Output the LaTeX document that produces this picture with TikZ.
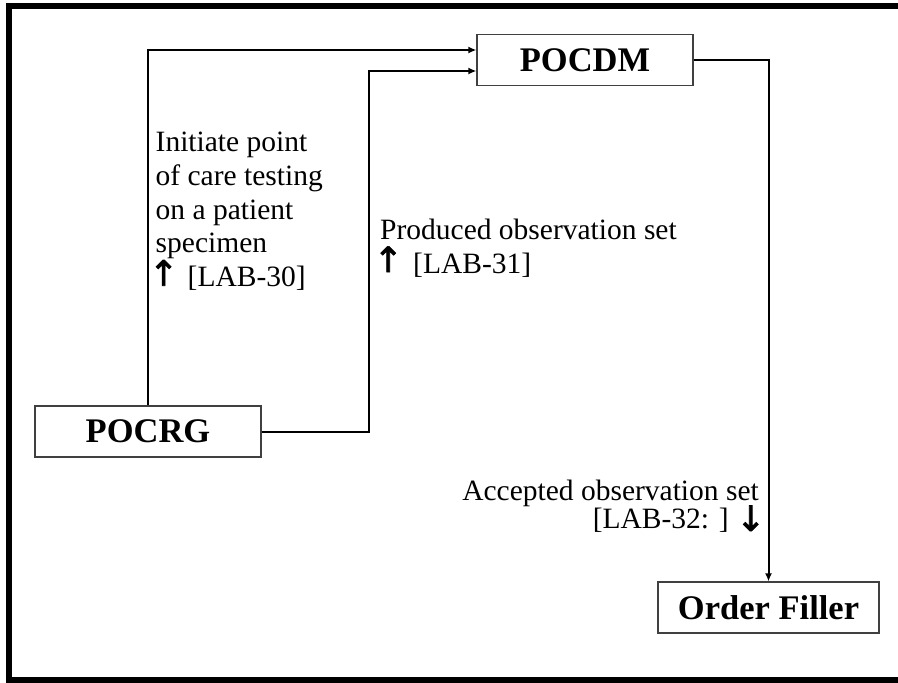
\documentclass[tikz,border=0pt]{standalone}
\usepackage{fontspec}
\setmainfont{Liberation Serif}
\newfontfamily\arrowfont[FakeBold=2]{DejaVu Sans}
\newcommand{\arrglyph}[2][1pt]{\makebox[16pt][c]{\raisebox{#1}{\smash{\arrowfont\fontsize{35pt}{24pt}\selectfont #2}}}}
\usetikzlibrary{arrows.meta,calc}
\begin{document}
\begin{tikzpicture}[x=1pt,y=-1pt,
  actor/.style={draw=black!75,line width=1.2pt,minimum height=51pt,inner sep=0pt,
    font=\fontsize{34.5pt}{40pt}\selectfont\bfseries},
  conn/.style={line width=2pt,-{Latex[length=8pt,width=7pt]}},
  lbl/.style={inner sep=0pt,font=\fontsize{29.5pt}{33.75pt}\selectfont}]
\useasboundingbox (0,0) rectangle (898,683);
% frame
\draw[line width=5.6pt] (8.7,690) -- (8.7,6) -- (905,6);
\draw[line width=6pt] (5.9,680) -- (905,680);
% actors
\node[actor,minimum width=216pt] (pocdm) at (585,60) {POCDM};
\node[actor,minimum width=226pt] (pocrg) at (148,431.5) {POCRG};
\node[actor,minimum width=221pt] (of) at (768.5,607.5) {Order Filler};
% junctions
\coordinate (j2) at (369,71);
% connectors
\draw[conn] (pocrg.north) |- ($(pocdm.west)+(0,-10)$);
\draw[conn] (pocrg.east) -| (j2) -- ($(pocdm.west)+(0,11)$);
\draw[conn] (pocdm.east) -| (of.north);
% labels (base anchor = baseline of last line)
\node[lbl,align=left,anchor=base west] (la) at (155.5,286.7)
  {Initiate point\\of care testing\\on a patient\\specimen\\\arrglyph{↑}\hspace{16pt}{[}LAB-30{]}};
\node[lbl,align=left,anchor=base west,font=\fontsize{29.5pt}{33.5pt}\selectfont] (lb) at (380,273)
  {Produced observation set\\\arrglyph{↑}\hspace{17pt}{[}LAB-31{]}};
\node[lbl,align=right,anchor=base east,font=\fontsize{29.5pt}{24pt}\selectfont] (lc) at (759,528)
  {Accepted observation set\\{[}LAB-32: {]}\hspace{14pt}\arrglyph[-3pt]{↓}};
\end{tikzpicture}
\end{document}
